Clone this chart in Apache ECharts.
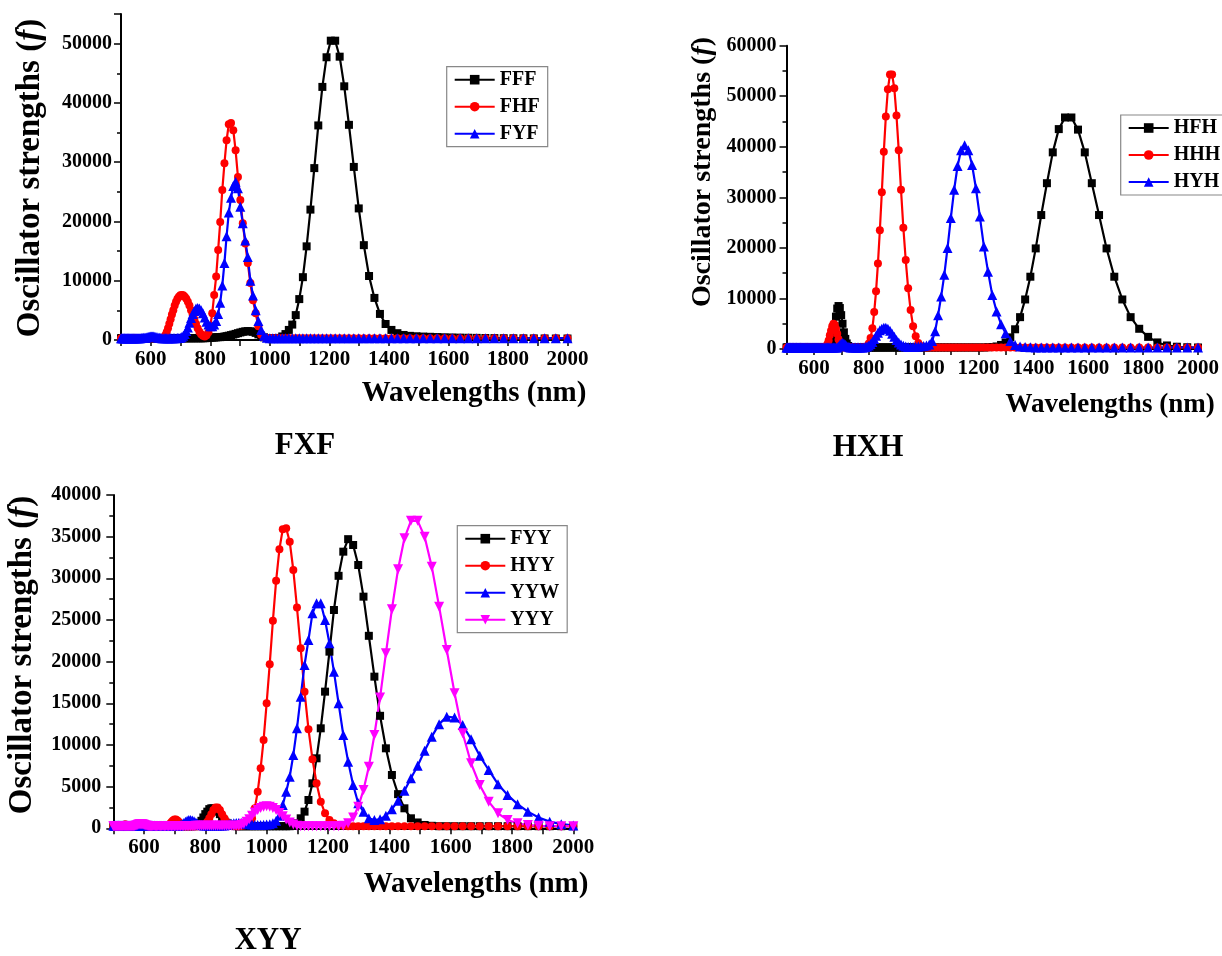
<!DOCTYPE html>
<html>
<head>
<meta charset="utf-8">
<script src="https://cdn.jsdelivr.net/npm/echarts@6/dist/echarts.min.js"></script>
<style>html,body{margin:0;padding:0;background:#fff;}#c{width:1222px;height:956px;}</style>
</head>
<body>
<div id="c"></div>
<script>
// Wavelength grid (nm) shared by all spectra
const WL = [
500.0,502.5,505.1,507.6,510.2,512.8,515.5,518.1,520.8,523.6,
526.3,529.1,531.9,534.8,537.6,540.5,543.5,546.4,549.5,552.5,
555.6,558.7,561.8,565.0,568.2,571.4,574.7,578.0,581.4,584.8,
588.2,591.7,595.2,598.8,602.4,606.1,609.8,613.5,617.3,621.1,
625.0,628.9,632.9,636.9,641.0,645.2,649.4,653.6,657.9,662.3,
666.7,671.1,675.7,680.3,684.9,689.7,694.4,699.3,704.2,709.2,
714.3,719.4,724.6,729.9,735.3,740.7,746.3,751.9,757.6,763.4,
769.2,775.2,781.3,787.4,793.7,800.0,806.5,813.0,819.7,826.4,
833.3,840.3,847.5,854.7,862.1,869.6,877.2,885.0,892.9,900.9,
909.1,917.4,925.9,934.6,943.4,952.4,961.5,970.9,980.4,990.1,
1000.0,1010.1,1020.4,1030.9,1041.7,1052.6,1063.8,1075.3,1087.0,1098.9,
1111.1,1123.6,1136.4,1149.4,1162.8,1176.5,1190.5,1204.8,1219.5,1234.6,
1250.0,1265.8,1282.1,1298.7,1315.8,1333.3,1351.4,1369.9,1388.9,1408.5,
1428.6,1449.3,1470.6,1492.5,1515.2,1538.5,1562.5,1587.3,1612.9,1639.3,
1666.7,1694.9,1724.1,1754.4,1785.7,1818.2,1851.9,1886.8,1923.1,1960.8,
2000.0];

// ---- FXF panel ----
const FFF = [
300,300,300,300,300,300,300,300,300,300,
300,300,300,300,300,300,300,300,300,300,
300,300,300,300,300,300,300,300,300,300,
300,300,300,300,300,300,300,300,300,300,
300,300,300,300,300,300,300,300,300,300,
300,300,300,300,300,300,300,300,300,300,
300,300,300,300,300,300,300,300,300,300,
300,300,310,320,340,380,400,420,450,480,
480,520,580,650,730,820,920,1030,1150,1270,
1380,1460,1500,1470,1380,1200,950,700,450,330,
300,300,300,350,600,1000,1700,2600,4200,6900,
10600,15800,22000,29000,36200,42700,47700,50500,50500,47800,
42800,36300,29200,22200,16000,10800,7100,4400,2700,1700,
1150,850,700,630,580,540,500,460,430,400,
380,360,340,320,300,290,280,270,260,250,
250];
const FHF = [
300,300,300,300,300,300,300,300,300,300,
300,300,300,300,300,300,300,300,300,300,
300,300,300,300,300,300,300,300,300,300,
300,300,300,300,300,300,300,300,300,300,
300,300,300,300,400,500,850,1350,2000,2750,
3500,4300,5000,5800,6450,6950,7300,7550,7600,7550,
7300,6950,6450,5800,5000,4300,3500,2750,2000,1400,
950,700,600,800,1300,2400,4500,7600,10700,15200,
19900,25300,29800,33700,36400,36600,35400,32000,27500,23600,
19700,16300,13000,9600,6700,4500,2300,900,450,320,
300,300,300,300,300,300,300,300,300,300,
300,300,300,300,300,300,300,300,300,300,
300,300,300,300,300,300,300,300,300,300,
300,300,300,300,300,300,300,300,300,300,
300,300,300,300,300,300,300,300,300,300,
300];
const FYF = [
300,300,300,300,300,300,300,300,300,300,
300,300,300,300,300,300,300,300,300,300,
300,300,300,300,320,340,360,380,400,430,
460,500,540,580,600,600,580,540,500,450,
400,360,330,310,300,300,300,300,300,300,
300,300,300,300,300,320,350,400,500,700,
1000,1500,2100,2900,3700,4400,4900,5300,5400,5300,
5000,4500,3800,3100,2600,2300,2300,2600,3200,4400,
6300,9200,13000,17500,21500,24000,26000,26700,25600,22500,
19700,16800,14000,10000,7500,5000,3200,1700,700,400,
300,300,300,300,300,300,300,300,300,300,
300,300,300,300,300,300,300,300,300,300,
300,300,300,300,300,300,300,300,300,300,
300,300,300,300,300,300,300,300,300,300,
300,300,300,300,300,300,300,300,300,300,
300];

// ---- HXH panel ----
const HFH = [
300,300,300,300,300,300,300,300,300,300,
300,300,300,300,300,300,300,300,300,300,
300,300,300,300,300,300,300,300,300,300,
300,300,300,300,300,300,300,300,300,300,
300,300,300,300,300,300,300,400,600,1000,
1700,2900,4500,6400,8000,8500,8100,6700,5000,3300,
2000,1100,600,400,300,300,300,300,300,300,
300,300,300,300,300,300,300,300,300,300,
300,300,300,300,300,300,300,300,300,300,
300,300,300,300,300,300,300,300,300,300,
300,300,300,300,300,300,300,300,300,300,
300,300,300,300,300,300,300,300,300,350,
400,500,800,1300,2300,3900,6300,9800,14300,19900,
26500,32800,38900,43500,45800,45800,43400,38900,32800,26500,
19900,14300,9800,6300,4000,2400,1300,700,450,350,
300];
const HHH = [
300,300,300,300,300,300,300,300,300,300,
300,300,300,300,300,300,300,300,300,300,
300,300,300,300,300,300,300,300,300,300,
300,300,300,300,300,300,300,300,300,300,
300,300,300,300,400,600,1000,1700,2700,3600,
4500,5000,4800,4000,3000,1900,1100,600,400,300,
300,300,300,300,300,300,300,300,300,300,
300,300,300,400,600,1100,2200,4100,7300,11400,
16900,23500,31000,39000,46000,51400,54300,54300,51600,46200,
39300,31500,24000,17600,12000,7700,4500,2500,1200,600,
350,300,300,300,300,300,300,300,300,300,
300,300,300,300,300,300,300,300,300,300,
300,300,300,300,300,300,300,300,300,300,
300,300,300,300,300,300,300,300,300,300,
300,300,300,300,300,300,300,300,300,300,
300];
const HYH = [
300,300,300,300,300,300,300,300,300,300,
300,300,300,300,300,300,300,300,300,300,
300,300,300,300,300,300,300,300,300,300,
300,300,300,300,300,300,300,300,300,300,
300,300,300,300,300,300,300,300,300,300,
300,300,300,300,300,500,800,1100,1200,1100,
850,600,450,350,300,300,300,300,300,300,
300,300,300,400,500,700,1000,1400,2000,2600,
3200,3700,4000,4200,4200,4000,3600,3000,2400,1800,
1300,900,650,500,400,400,400,450,500,550,
600,700,900,1600,3500,6700,10400,14700,20000,25900,
31500,36200,39300,40300,39300,36400,31800,26200,20300,15300,
10700,7400,4900,3100,1600,800,500,400,350,300,
300,300,300,300,300,300,300,300,300,300,
300,300,300,300,300,300,300,300,300,300,
300];

// ---- XYY panel ----
const FYY = [
250,250,250,250,250,250,250,250,250,250,
250,250,250,250,250,250,250,250,250,250,
250,250,250,250,250,250,250,250,250,250,
250,250,250,250,250,250,250,250,250,250,
250,250,250,250,250,250,250,250,250,250,
250,250,250,250,250,250,250,250,250,250,
250,250,250,250,250,250,250,250,250,250,
300,400,600,900,1300,1700,2000,2300,2400,2400,
2300,2000,1700,1300,900,650,450,350,300,250,
250,250,250,250,250,250,250,250,250,250,
250,250,250,250,250,250,250,250,350,600,
1200,2000,3400,5400,8400,12000,16400,21200,26200,30300,
33200,34700,34000,31600,27800,23100,18200,13500,9600,6400,
4100,2400,1200,700,400,300,250,250,250,250,
250,250,250,250,250,250,250,250,250,250,
250];
const HYY = [
250,250,250,250,250,250,250,250,250,250,
250,250,300,400,450,450,400,300,250,250,
250,250,250,250,250,250,250,250,250,250,
250,250,250,250,250,250,250,250,250,250,
250,250,250,250,250,250,250,250,250,250,
250,250,300,400,550,750,950,1050,1050,950,
750,550,400,300,250,250,250,250,250,250,
250,250,250,250,300,500,800,1200,1700,2200,
2500,2500,2200,1700,1200,800,500,350,300,250,
250,300,350,500,700,1200,2400,4400,7200,10600,
15000,19700,24900,29700,33500,35900,36000,34400,31000,26500,
21600,16400,11900,8300,5400,3200,1800,1000,600,400,
300,250,250,250,250,250,250,250,250,250,
250,250,250,250,250,250,250,250,250,250,
250,250,250,250,250,250,250,250,250,250,
250];
const YYW = [
350,350,350,350,350,350,350,350,350,350,
350,350,350,350,350,350,350,350,350,350,
350,350,350,350,350,350,350,350,350,350,
350,350,350,350,350,350,350,350,350,350,
350,350,330,300,300,300,300,300,300,300,
300,300,300,300,300,300,300,300,300,300,
300,400,500,650,800,900,1000,1000,950,850,
700,550,450,400,350,350,350,350,350,350,
350,350,350,350,350,400,500,550,600,650,
650,650,600,550,500,450,400,400,400,420,
450,500,600,900,1500,2800,4400,6200,8800,12000,
15800,19600,22600,25800,27000,27000,25000,22200,18800,15000,
11200,8000,5200,3000,2000,1200,1000,1100,1500,2300,
3300,4500,6000,7500,9300,11000,12500,13400,13300,12400,
10700,8700,7000,5300,4000,2900,2000,1300,800,500,
350];
const YYY = [
250,250,250,250,250,250,250,250,250,250,
250,250,250,250,250,250,250,250,250,250,
250,250,250,250,250,300,350,400,450,480,
500,500,480,450,400,350,300,250,250,250,
250,250,250,250,250,250,250,250,250,250,
250,250,250,250,250,250,250,250,250,250,
250,250,250,250,250,250,250,250,250,250,
300,300,300,300,300,300,300,300,300,300,
300,300,300,300,300,300,300,300,300,300,
300,400,550,800,1100,1500,1900,2200,2450,2600,
2650,2600,2450,2200,1850,1450,1050,700,450,300,
250,250,250,250,250,250,250,250,250,250,
300,600,1300,2600,4600,7400,11200,15700,21000,26300,
31100,34800,36900,36900,35000,31400,26600,21400,16200,11400,
7800,5200,3200,1800,1000,600,400,300,250,250,
250];

const X_TICK_LABELS = [600, 800, 1000, 1200, 1400, 1600, 1800, 2000];
const PANEL_TITLES = ['FXF', 'HXH', 'XYY'];
const X_NAME = 'Wavelengths (nm)';
const Y_NAME = 'Oscillator strengths ({i|f})';

const FONT = 'Liberation Serif';
const BLACK = '#000000', RED = '#ff0000', BLUE = '#0000ff', MAG = '#ff00ff';
const INV_TRI = 'path://M0,0 L10,0 L5,9 Z';

function xy(arr){ return WL.map((w,i)=>[w, arr[i]]); }

const grids = [
  {left:121, top:14, width:446.5, height:326},
  {left:786.5, top:45.7, width:413.5, height:303.3},
  {left:113.3, top:495, width:460, height:333.3}
];
const yMax = [55000, 60000, 40000];
const yInt = [10000, 10000, 5000];
const yMargin = [9, 10, 12];

function xAxis(g){
  return {type:'value', gridIndex:g, min:500, max:2000, interval:100,
    axisLine:{show:true, lineStyle:{color:'#000', width:2}},
    axisTick:{show:true, inside:false, length:6, lineStyle:{color:'#000', width:1.5}},
    axisLabel:{margin:9, color:'#000', fontFamily:FONT, fontWeight:'bold', fontSize:21,
      formatter:(v)=> X_TICK_LABELS.indexOf(v) >= 0 ? String(v) : ''},
    splitLine:{show:false}};
}
function yAxis(g){
  return {type:'value', gridIndex:g, min:0, max:yMax[g], interval:yInt[g],
    axisLine:{show:true, lineStyle:{color:'#000', width:2}},
    axisTick:{show:true, inside:false, length:7, lineStyle:{color:'#000', width:1.5}},
    minorTick:{show:true, splitNumber:2, length:4, lineStyle:{color:'#000', width:1.5}},
    axisLabel:{margin:yMargin[g], color:'#000', fontFamily:FONT, fontWeight:'bold', fontSize:20,
      formatter:(v)=> (v % yInt[g] === 0) ? String(v) : ''},
    splitLine:{show:false}};
}
function ser(name, data, color, symbol, size, g){
  return {name, type:'line', xAxisIndex:g, yAxisIndex:g, data:xy(data),
    symbol, symbolSize:size, showAllSymbol:true,
    lineStyle:{color, width:2.2}, itemStyle:{color, borderWidth:0},
    emphasis:{disabled:true}};
}
function legend(names, left, top){
  return {data:names, orient:'vertical', left, top, itemWidth:40, itemHeight:12, itemGap:7,
    padding:[3,8,3,7], borderColor:'#888', borderWidth:1.2, backgroundColor:'#fff',
    textStyle:{fontFamily:FONT, fontWeight:'bold', fontSize:20, color:'#000', lineHeight:20},
    selectedMode:false};
}
function label(text, x, y, size, rot){
  return {type:'text', x, y, rotation: rot || 0, silent:true,
    style:{text, fill:'#000', fontFamily:FONT, fontWeight:'bold', fontSize:size,
      align:'center', verticalAlign:'middle', textAlign:'center', textVerticalAlign:'middle',
      rich:{i:{fontStyle:'italic', fontWeight:'bold', fontFamily:FONT, fontSize:size, fill:'#000'}}}};
}

const chart = echarts.init(document.getElementById('c'), null, {renderer:'canvas'});
chart.setOption({
  animation:false,
  backgroundColor:'#fff',
  grid: grids,
  xAxis: [xAxis(0), xAxis(1), xAxis(2)],
  yAxis: [yAxis(0), yAxis(1), yAxis(2)],
  legend: [
    legend(['FFF','FHF','FYF'], 446.7, 66.7),
    legend(['HFH','HHH','HYH'], 1120.7, 115),
    legend(['FYY','HYY','YYW','YYY'], 457.3, 525.7)
  ],
  series: [
    ser('FFF', FFF, BLACK, 'rect', 8, 0),
    ser('FHF', FHF, RED, 'circle', 8, 0),
    ser('FYF', FYF, BLUE, 'triangle', 10, 0),
    ser('HFH', HFH, BLACK, 'rect', 8, 1),
    ser('HHH', HHH, RED, 'circle', 8, 1),
    ser('HYH', HYH, BLUE, 'triangle', 10, 1),
    ser('FYY', FYY, BLACK, 'rect', 8, 2),
    ser('HYY', HYY, RED, 'circle', 8, 2),
    ser('YYW', YYW, BLUE, 'triangle', 10, 2),
    ser('YYY', YYY, MAG, INV_TRI, 10, 2)
  ],
  graphic: [
    label(X_NAME, 474, 394, 29),
    label(X_NAME, 1110, 405, 27),
    label(X_NAME, 476, 885, 29),
    label(Y_NAME, 30, 178, 33, Math.PI/2),
    label(Y_NAME, 703, 172, 28, Math.PI/2),
    label(Y_NAME, 22, 655, 33, Math.PI/2),
    label(PANEL_TITLES[0], 305, 446, 31),
    label(PANEL_TITLES[1], 868, 448, 31),
    label(PANEL_TITLES[2], 268, 941, 31)
  ]
});
</script>
</body>
</html>
